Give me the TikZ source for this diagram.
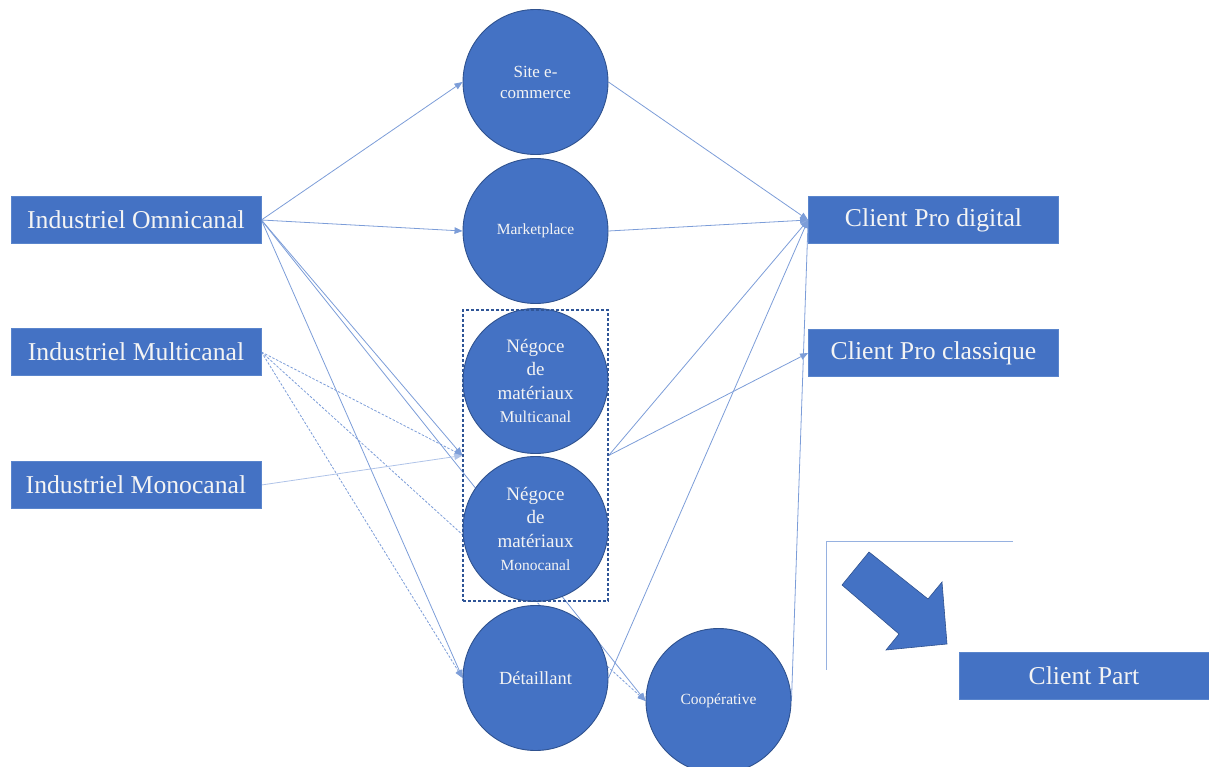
\documentclass[tikz,border=0pt]{standalone}
\usepackage{fontspec}
\setmainfont{Liberation Serif}
\usetikzlibrary{arrows.meta}
\definecolor{fillb}{HTML}{4472C4}
\definecolor{edgeb}{HTML}{2F528F}
\definecolor{rectb}{HTML}{5A85CC}
\definecolor{linec}{HTML}{7C9DD8}
\definecolor{linelt}{HTML}{AFC3E8}
\definecolor{boxc}{HTML}{2F5597}
\definecolor{txt}{HTML}{F4F4F4}
\pgfdeclarelayer{bg}
\pgfsetlayers{bg,main}
\tikzset{
  rectnode/.style={rectangle, fill=fillb, draw=rectb, line width=0.8pt,
    minimum width=250, minimum height=47, inner sep=0pt, text=txt,
    font=\fontsize{25.7}{30}\selectfont},
  circnode/.style={circle, fill=fillb, draw=edgeb, line width=0.9pt,
    minimum size=145, inner sep=0pt, text=txt, align=center},
  edge/.style={draw=linec, line width=0.8pt, -{Triangle[length=8pt,width=6.5pt]}},
  dashedge/.style={edge, dash pattern=on 2.5pt off 1.6pt},
  groupbox/.style={rectangle, draw=boxc, line width=1.3pt, dash pattern=on 3pt off 2pt,
    minimum width=145, minimum height=291, inner sep=0pt},
  bracketline/.style={draw=linec!80, line width=0.8pt},
  bigarrow/.style={fill=fillb, draw=edgeb, line width=0.6pt}
}
\begin{document}
\begin{tikzpicture}[x=1pt,y=-1pt]
\useasboundingbox (0,0) rectangle (1209,767);
\clip (0,0) rectangle (1209,767);
% left rectangles
\node[rectnode] (io)  at (136,220) {Industriel Omnicanal};
\node[rectnode] (imu) at (136,352) {Industriel Multicanal};
\node[rectnode] (imo) at (136,485) {Industriel Monocanal};
% right rectangles
\node[rectnode] (cpd) at (933.5,220) {Client Pro digital};
\node[rectnode] (cpc) at (933.5,353) {Client Pro classique};
\node[rectnode] (cp)  at (1084,676) {Client Part};
% circles
\node[circnode, font=\fontsize{17}{21}\selectfont] (site) at (535.5,82) {Site e-\\commerce};
\node[circnode, font=\fontsize{15.5}{19}\selectfont] (mkt) at (535.5,231) {Marketplace};
\node[circnode, font=\fontsize{19}{23.5}\selectfont] (nmu) at (535.5,381) {Négoce\\de\\matériaux\\{\fontsize{16.5}{20}\selectfont Multicanal}};
\node[circnode, font=\fontsize{19}{23.5}\selectfont] (nmo) at (535.5,529) {Négoce\\de\\matériaux\\{\fontsize{15.5}{20}\selectfont Monocanal}};
\node[circnode, font=\fontsize{18.5}{22}\selectfont] (det) at (535.5,678) {Détaillant};
\node[circnode, font=\fontsize{15.5}{19}\selectfont] (coop) at (718.5,701) {Coopérative};
% dashed group
\node[groupbox] (box) at (535.5,455.5) {};
% connectors (behind shapes)
\begin{pgfonlayer}{bg}
\draw[edge] (io.east) -- (site.west);
\draw[edge] (io.east) -- (mkt.west);
\draw[edge] (io.east) -- (box.west);
\draw[edge] (io.east) -- (coop.west);
\draw[edge] (io.east) -- (det.west);
\draw[dashedge] (imu.east) -- (box.west);
\draw[dashedge] (imu.east) -- (coop.west);
\draw[dashedge] (imu.east) -- (det.west);
\draw[edge, draw=linelt] (imo.east) -- (box.west);
\draw[edge] (site.east) -- (cpd.west);
\draw[edge] (mkt.east) -- (cpd.west);
\draw[edge] (box.east) -- (cpd.west);
\draw[edge] (box.east) -- (cpc.west);
\draw[edge] (det.east) -- (cpd.west);
\draw[edge] (coop.east) -- (cpd.west);
\end{pgfonlayer}
% bracket and big arrow
\draw[bracketline] (1013,541) -- (826,541) -- (826,670);
\draw[bigarrow] (869,552) -- (928,599) -- (942,582) -- (947,644) -- (886,650) -- (899,634) -- (842,585) -- cycle;
\end{tikzpicture}
\end{document}
